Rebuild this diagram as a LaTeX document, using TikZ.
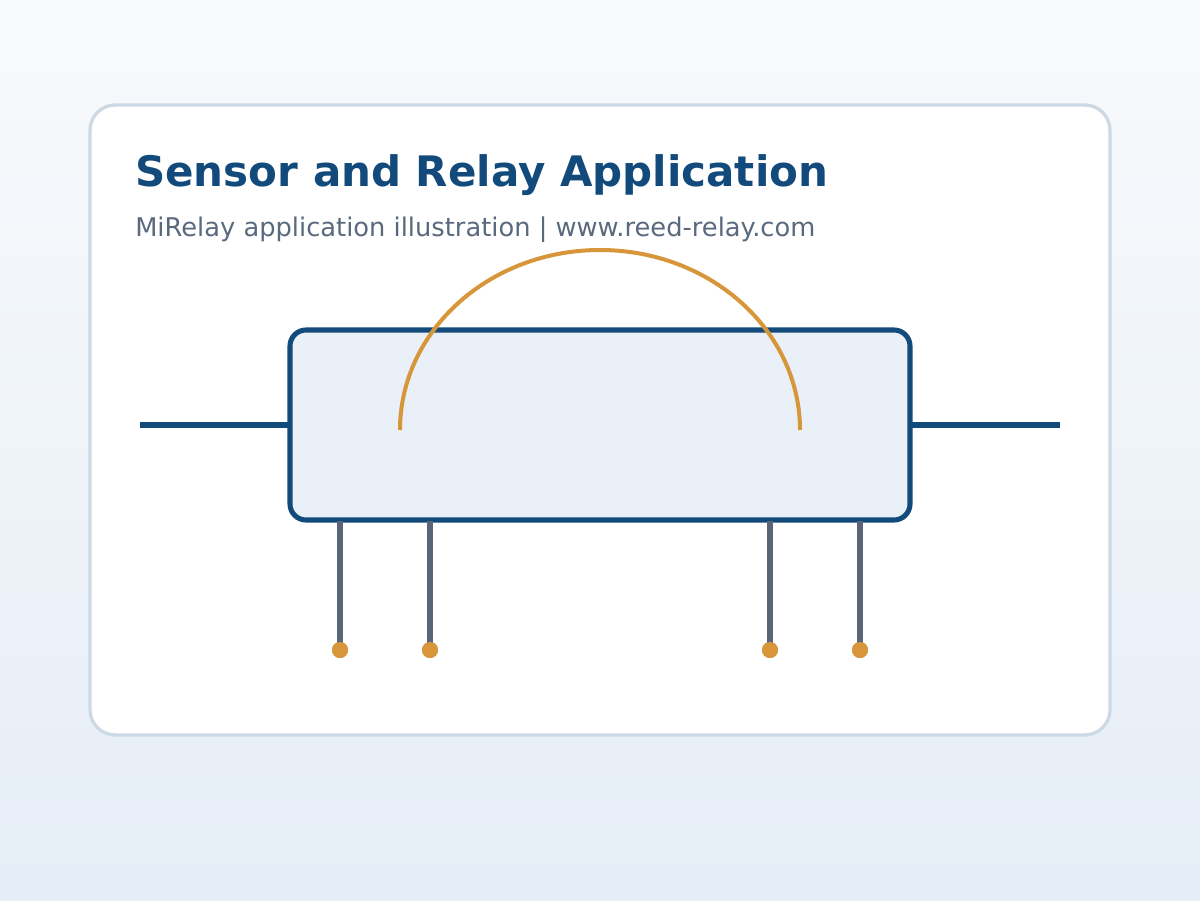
\documentclass[tikz,border=0pt]{standalone}
\usepackage{fontspec}
\setmainfont{DejaVu Sans}
\definecolor{bgtop}{HTML}{F8FAFC}
\definecolor{bgbot}{HTML}{E5EDF6}
\definecolor{cardline}{HTML}{CDD9E5}
\definecolor{navy}{HTML}{134A7C}
\definecolor{boxfill}{HTML}{E9F0F8}
\definecolor{orng}{HTML}{D8963A}
\definecolor{pincol}{HTML}{5A6677}
\definecolor{subt}{HTML}{5A6A7E}
\tikzset{
  pinline/.style={draw=pincol,line width=4.5pt},
  pindot/.style={circle,fill=orng,inner sep=0pt,minimum size=12pt},
  lead/.style={navy,line width=4.5pt}
}
\begin{document}
\begin{tikzpicture}[x=0.75pt,y=-0.75pt]
\shade[top color=bgtop,bottom color=bgbot] (0,0) rectangle (1200,900);
\useasboundingbox (0,0) rectangle (1200,900);
\draw[cardline,line width=2.5pt,fill=white,rounded corners=19pt] (90,105) rectangle (1110,735);
\node[anchor=base west,inner sep=0pt,text=navy,font=\bfseries\fontsize{31.5}{38}\selectfont] (title) at (135,186) {Sensor and Relay Application};
\node[anchor=base west,inner sep=0pt,text=subt,font=\fontsize{19.3}{23}\selectfont] (sub) at (135,236) {MiRelay application illustration | www.reed-relay.com};
\draw[navy,line width=3.8pt,fill=boxfill,rounded corners=12pt] (290,330) rectangle (910,520);
\node[minimum width=620*0.75pt,minimum height=190*0.75pt,inner sep=0pt] (relay) at (600,425) {};
\coordinate (lin) at (140,425);
\coordinate (rin) at (1060,425);
\draw[lead] (lin) -- (relay.west);
\draw[lead] (relay.east) -- (rin);
\draw[orng,line width=3pt] (400,430) arc[start angle=180,end angle=0,x radius=200*0.75pt,y radius=180*0.75pt];
\foreach \x/\n in {340/a,430/b,770/c,860/d}{
  \node[pindot] (dot\n) at (\x,650) {};
  \coordinate (top\n) at (\x,521);
  \draw[pinline] (top\n) -- (dot\n.center);
  \node[pindot] at (\x,650) {};
}
\end{tikzpicture}
\end{document}
